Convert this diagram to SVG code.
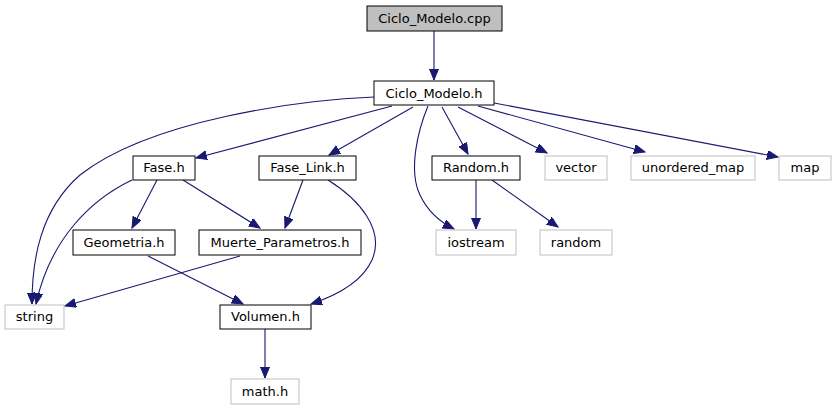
<svg xmlns="http://www.w3.org/2000/svg" width="836" height="411" viewBox="0 0 836 411">
<defs>
<style>
.n rect{fill:#ffffff;stroke:#000000;stroke-width:1}
.g rect{fill:#ffffff;stroke:#bfbfbf;stroke-width:1}
.n text,.g text{font-family:"DejaVu Sans",sans-serif;font-size:13px;fill:#000000;text-anchor:middle}
.e path{fill:none;stroke:#191970;stroke-width:1.1;marker-end:url(#ah)}
</style>
<marker id="ah" markerUnits="userSpaceOnUse" markerWidth="13" markerHeight="10" refX="11" refY="4.5" orient="auto">
<path d="M0,0 L11,4.5 L0,9 z" fill="#191970" stroke="#191970" stroke-width="1"/>
</marker>
</defs>
<rect width="836" height="411" fill="#ffffff"/>
<g id="connectors" class="e">
<path d="M434,31 L434,80"/>
<path d="M374,97 C300,100 150,120 80,175 C40,210 32,260 32,304"/>
<path d="M392,106 L196,158"/>
<path d="M413,107 L329,155"/>
<path d="M428,106 C418,130 408,170 420,195 C428,212 440,222 454,229"/>
<path d="M442,107 L468,154"/>
<path d="M458,107 L547,153"/>
<path d="M478,106 L645,152"/>
<path d="M494,103 L778,157"/>
<path d="M132,180 C90,200 50,240 36,304"/>
<path d="M157,180 L132,228"/>
<path d="M183,180 L260,228"/>
<path d="M303,180 L285,228"/>
<path d="M328,180 C360,200 385,230 372,260 C362,282 335,296 311,304"/>
<path d="M148,256 L243,304"/>
<path d="M240,256 L65,306"/>
<path d="M476,180 L476,229"/>
<path d="M492,180 L558,227"/>
<path d="M265,329 L265,378"/>
</g>
<g id="node_cpp" class="n"><rect x="367" y="6" width="135" height="25" style="fill:#bfbfbf"/><text x="434.5" y="23">Ciclo_Modelo.cpp</text></g>
<g id="node_ciclo_h" class="n"><rect x="374" y="81" width="120" height="24"/><text x="434" y="97.5">Ciclo_Modelo.h</text></g>
<g id="node_fase" class="n"><rect x="133" y="156" width="62" height="24"/><text x="164" y="172">Fase.h</text></g>
<g id="node_fase_link" class="n"><rect x="259" y="156" width="97" height="24"/><text x="307.5" y="172">Fase_Link.h</text></g>
<g id="node_random_h" class="n"><rect x="432" y="156" width="88" height="24"/><text x="476" y="172">Random.h</text></g>
<g id="node_vector" class="g"><rect x="545" y="156" width="62" height="24"/><text x="576" y="172">vector</text></g>
<g id="node_unordered_map" class="g"><rect x="631" y="156" width="124" height="24"/><text x="693" y="172">unordered_map</text></g>
<g id="node_map" class="g"><rect x="779" y="156" width="52" height="24"/><text x="805" y="172">map</text></g>
<g id="node_geometria" class="n"><rect x="73" y="230" width="102" height="25"/><text x="124" y="246.5">Geometria.h</text></g>
<g id="node_muerte" class="n"><rect x="199" y="230" width="162" height="25"/><text x="280" y="246.5">Muerte_Parametros.h</text></g>
<g id="node_iostream" class="g"><rect x="436" y="230" width="80" height="25"/><text x="476" y="246.5">iostream</text></g>
<g id="node_random" class="g"><rect x="540" y="230" width="72" height="25"/><text x="576" y="246.5">random</text></g>
<g id="node_string" class="g"><rect x="5" y="305" width="59" height="24"/><text x="34.5" y="321">string</text></g>
<g id="node_volumen" class="n"><rect x="220" y="305" width="91" height="24"/><text x="265.5" y="321">Volumen.h</text></g>
<g id="node_math" class="g"><rect x="231" y="379" width="68" height="25"/><text x="265" y="395.5">math.h</text></g>
</svg>
